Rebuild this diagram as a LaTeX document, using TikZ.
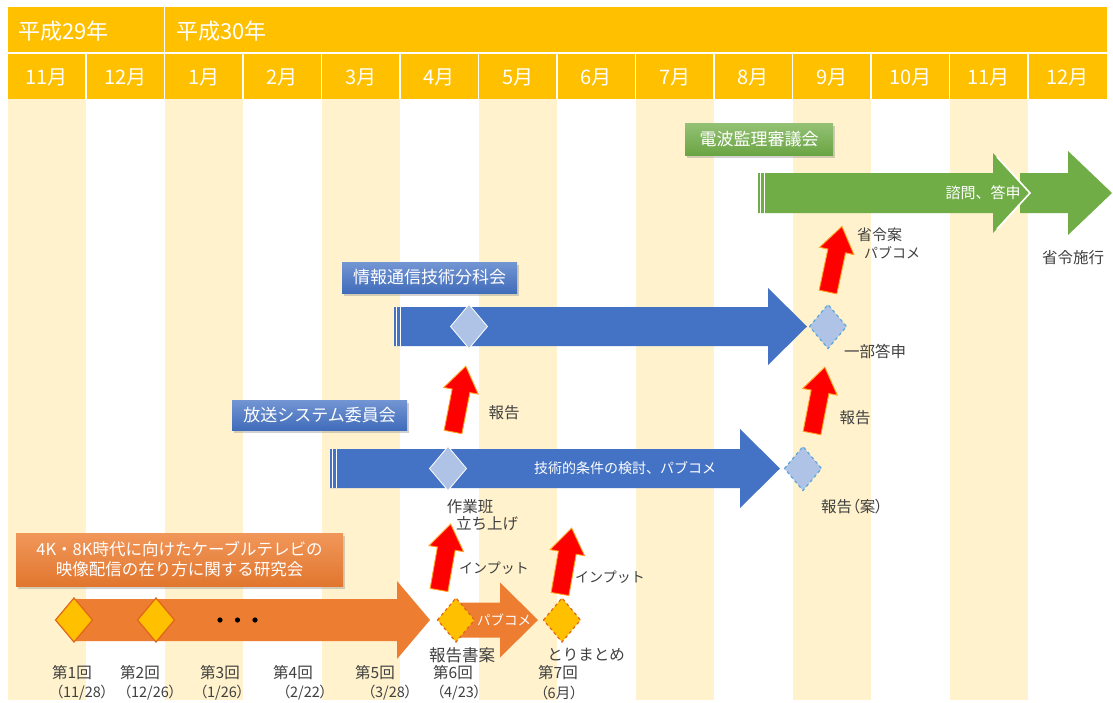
\documentclass[tikz,border=0pt]{standalone}
\usepackage{fontspec}
\setmainfont{Noto Sans CJK JP}
\usetikzlibrary{shadows}
\definecolor{hdr}{HTML}{FFC000}
\definecolor{stripe}{HTML}{FFF2CC}
\definecolor{grn}{HTML}{70AD47}
\definecolor{blu}{HTML}{4472C4}
\definecolor{org}{HTML}{ED7D31}
\definecolor{orgline}{HTML}{E0651A}
\definecolor{dia}{HTML}{AFC3E6}
\definecolor{dashblue}{HTML}{5BA6D8}
\definecolor{txt}{HTML}{404040}
\definecolor{arrred}{HTML}{FF0000}
\definecolor{arredge}{HTML}{FFA020}
\newcommand\blockarr[7]{\fill[#7] (#1,#4-#5) -- (#2,#4-#5) -- (#2,#4-#6) -- (#3,#4) -- (#2,#4+#6) -- (#2,#4+#5) -- (#1,#4+#5) -- cycle;}
\newcommand\stripestart[3]{\draw[white,line width=1.1pt] (#1+2.8,#2-#3) -- (#1+2.8,#2+#3) (#1+6.2,#2-#3) -- (#1+6.2,#2+#3);}
\newcommand\dmd[3]{\filldraw[#3] (#1-18.5,#2) -- (#1,#2-22) -- (#1+18.5,#2) -- (#1,#2+22) -- cycle;}
\tikzset{
  hdrtext/.style={text=white, font=\fontsize{20}{20}\selectfont, inner sep=0pt},
  yeartext/.style={text=white, font=\fontsize{22}{22}\selectfont, inner sep=0pt, anchor=west},
  lbl/.style={text=txt, font=\fontsize{15.5}{17}\selectfont, inner sep=0pt},
  plbl/.style={text=txt, font=\fontsize{15.5}{17}\selectfont\addfontfeatures{RawFeature=+palt}, inner sep=0pt},
  datelbl/.style={text=txt, font=\fontsize{14.5}{16}\selectfont\addfontfeatures{RawFeature=+palt}, inner sep=0pt},
  small/.style={text=txt, font=\fontsize{14}{16}\selectfont, inner sep=0pt},
  intext/.style={text=white, font=\fontsize{14}{16}\selectfont, inner sep=0pt},
  titlebox/.style={text=white, font=\fontsize{17}{21}\selectfont, inner sep=0pt, align=center,
    drop shadow={opacity=0.35, shadow xshift=2pt, shadow yshift=-2.5pt}},
  soliddia/.style={fill=dia, draw=white, line width=0.8pt},
  dasheddia/.style={fill=dia, draw=dashblue, dashed, line width=1.2pt},
  orgdia/.style={fill=hdr, draw=orgline, line width=1.2pt},
  orgdashdia/.style={fill=hdr, draw=orgline, dashed, line width=1.2pt},
  redarrow/.pic={\filldraw[fill=arrred, draw=arredge, line width=0.9pt, line join=miter]
     (-9,0) -- (-9,-42) -- (-17.5,-42) -- (0,-67) -- (17.5,-42) -- (9,-42) -- (9,0) -- cycle;}
}
\begin{document}
\begin{tikzpicture}[x=1pt,y=-1pt]
\useasboundingbox (0,0) rectangle (1113,702);
\fill[white] (0,0) rectangle (1113,702);
% stripes
\foreach \i in {0,2,...,12}{
  \fill[stripe] ({7.5+78.5*\i},99) rectangle ({7.5+78.5*(\i+1)},700);
}
% header
\fill[hdr] (7.5,7) rectangle (1106.5,99);
\draw[white,line width=1.2pt] (7.5,53) -- (1106.5,53);
\draw[white,line width=1.2pt] (164.5,7) -- (164.5,99);
\foreach \i in {1,...,13}{
  \draw[white,line width=1.2pt] ({7.5+78.5*\i},53) -- ({7.5+78.5*\i},99);
}
\node[yeartext] (y29) at (18,31) {平成29年};
\node[yeartext] (y30) at (176,31) {平成30年};
\foreach \m [count=\i from 0] in {11月,12月,1月,2月,3月,4月,5月,6月,7月,8月,9月,10月,11月,12月}{
  \node[hdrtext] (m\i) at ({7.5+78.5*\i+39.25},77) {\m};
}

% green
\blockarr{1020}{1068}{1112}{193}{20}{42}{grn}
\blockarr{758}{993}{1030}{193}{20}{40}{grn}
\draw[white,line width=1.6pt] (997,157) -- (1030,193) -- (997,229);
\stripestart{758}{193}{20}
\node[intext, font=\fontsize{15}{17}\selectfont] (shimon) at (983,193) {諮問、答申};
\node[titlebox, minimum width=148pt, minimum height=32pt, top color=grn!75!white, bottom color=grn!95!black] (denpa) at (759,139) {電波監理審議会};
\node[small, anchor=west, font=\fontsize{15}{17}\selectfont] (shorei) at (857,235) {省令案};
\node[small, anchor=west] (pabu1) at (864,253) {パブコメ};
\node[lbl] (shikou) at (1073,258) {省令施行};

% blue 1
\blockarr{394}{768}{807}{326.5}{19.5}{38.5}{blu}
\stripestart{394}{326.5}{19.5}
\dmd{469}{326.5}{soliddia}
\dmd{828}{326.5}{dasheddia}
\node[titlebox, minimum width=175pt, minimum height=31pt, top color=blu!75!white, bottom color=blu!95!black] (joho) at (429.5,277.5) {情報通信技術分科会};
\node[lbl] (ichibu) at (875,351) {一部答申};

% blue 2
\blockarr{330}{740}{780}{468.5}{19.5}{39.5}{blu}
\stripestart{330}{468.5}{19.5}
\dmd{448}{468.5}{soliddia}
\dmd{803}{468.5}{dasheddia}
\node[intext] (gijutsu) at (625,468.5) {技術的条件の検討、パブコメ};
\node[titlebox, minimum width=175pt, minimum height=30pt, top color=blu!75!white, bottom color=blu!95!black] (hoso) at (319.5,415) {放送システム委員会};
\node[lbl] (hokoku1) at (504,413) {報告};
\node[lbl] (hokoku2) at (855,418) {報告};
\node[plbl] (hokokuan) at (852,507) {報告（案）};
\node[lbl] (sagyo) at (470,507) {作業班};
\node[lbl] (tachiage) at (487,524) {立ち上げ};

% orange
\blockarr{74}{397}{430}{620}{21}{39}{org}
\blockarr{458}{500}{538}{620}{17.5}{37.5}{org}
\dmd{74}{620}{orgdia}
\dmd{156}{620}{orgdia}
\dmd{456}{620}{orgdashdia}
\dmd{562}{620}{orgdashdia}
\foreach \x in {220,237.5,255}{ \fill[black] (\x,620) circle (2.6pt); }
\node[intext, font=\fontsize{13.5}{15}\selectfont] (pabu2) at (504,620) {パブコメ};
\node[titlebox, minimum width=327pt, minimum height=53pt, top color=org!80!white, bottom color=org!95!black, font=\fontsize{16.5}{20}\selectfont] (kenkyu) at (179.5,559.5) {4K・8K時代に向けたケーブルテレビの\\映像配信の在り方に関する研究会};
\node[small] (input1) at (494,568) {インプット};
\node[small] (input2) at (610,577) {インプット};
\node[lbl, font=\fontsize{16.5}{18}\selectfont] (hokokusho) at (462,655) {報告書案};
\node[lbl] (torimatome) at (586,655) {とりまとめ};

% bottom labels
\node[lbl] (d1) at (72,673) {第1回};
\node[datelbl] (d1d) at (82,693) {（11/28）};
\node[lbl] (d2) at (140,673) {第2回};
\node[datelbl] (d2d) at (150,693) {（12/26）};
\node[lbl] (d3) at (220,673) {第3回};
\node[datelbl] (d3d) at (222,693) {（1/26）};
\node[lbl] (d4) at (293,673) {第4回};
\node[datelbl] (d4d) at (305,693) {（2/22）};
\node[lbl] (d5) at (375,673) {第5回};
\node[datelbl] (d5d) at (390,693) {（3/28）};
\node[lbl] (d6) at (453,673) {第6回};
\node[datelbl] (d6d) at (459,693) {（4/23）};
\node[lbl] (d7) at (558,673) {第7回};
\node[datelbl] (d7d) at (559,693) {（6月）};

% red arrows
\pic[rotate=-12] (r1) at (828,292) {redarrow};
\pic[rotate=-11] (r2) at (453,432) {redarrow};
\pic[rotate=-11] (r3) at (812,433) {redarrow};
\pic[rotate=-10] (r4) at (439,590) {redarrow};
\pic[rotate=-10] (r5) at (560,594) {redarrow};
\end{tikzpicture}
\end{document}
